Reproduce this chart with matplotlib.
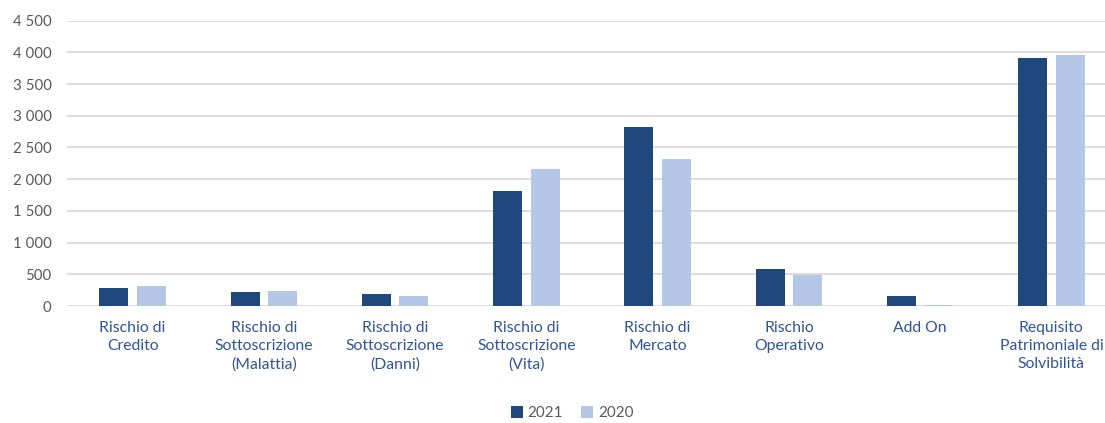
import matplotlib.pyplot as plt
from matplotlib.ticker import FuncFormatter, MultipleLocator
import numpy as np

categories = [
    "Rischio di\nCredito",
    "Rischio di\nSottoscrizione\n(Malattia)",
    "Rischio di\nSottoscrizione\n(Danni)",
    "Rischio di\nSottoscrizione\n(Vita)",
    "Rischio di\nMercato",
    "Rischio\nOperativo",
    "Add On",
    "Requisito\nPatrimoniale di\nSolvibilità",
]
values_2021 = [290, 216, 190, 1811, 2827, 580, 158, 3916]
values_2020 = [311, 232, 153, 2162, 2317, 485, 22, 3958]

dark = "#1F497D"
light = "#B4C7E7"
label_blue = "#2F5597"
tick_gray = "#595959"

plt.rcParams["font.family"] = ["Lato", "DejaVu Sans"]

fig = plt.figure(figsize=(11.05, 4.23), dpi=100)
# the plot area runs a little past the right edge of the figure
ax = fig.add_axes([67 / 1105, 117 / 423, 1050 / 1105, 285.3 / 423])

x = np.arange(len(categories))
w = 0.22
ax.bar(x - 0.143, values_2021, width=w, color=dark, label="2021", zorder=3)
ax.bar(x + 0.143, values_2020, width=w, color=light, label="2020", zorder=3)

ax.set_ylim(0, 4500)
ax.set_xlim(-0.5, 7.5)
ax.yaxis.set_major_locator(MultipleLocator(500))
ax.yaxis.set_major_formatter(FuncFormatter(lambda v, p: f"{int(v):,}".replace(",", " ")))
ax.grid(axis="y", color="#D9D9D9", linewidth=1.3, zorder=0)

for s in ax.spines.values():
    s.set_visible(False)

ax.set_xticks(x)
ax.set_xticklabels(categories, color=label_blue, fontsize=11.3, linespacing=1.35)
ax.tick_params(axis="x", length=0, pad=11)
ax.tick_params(axis="y", length=0, pad=11, labelsize=10.8, labelcolor=tick_gray)

fig.legend(loc="center", bbox_to_anchor=(572 / 1105, 1 - 413 / 423), ncol=2,
           frameon=False, fontsize=11, handlelength=0.8, handleheight=0.8,
           handletextpad=0.3, columnspacing=1.2, labelcolor=tick_gray)

fig.savefig("out.png", dpi=100)
